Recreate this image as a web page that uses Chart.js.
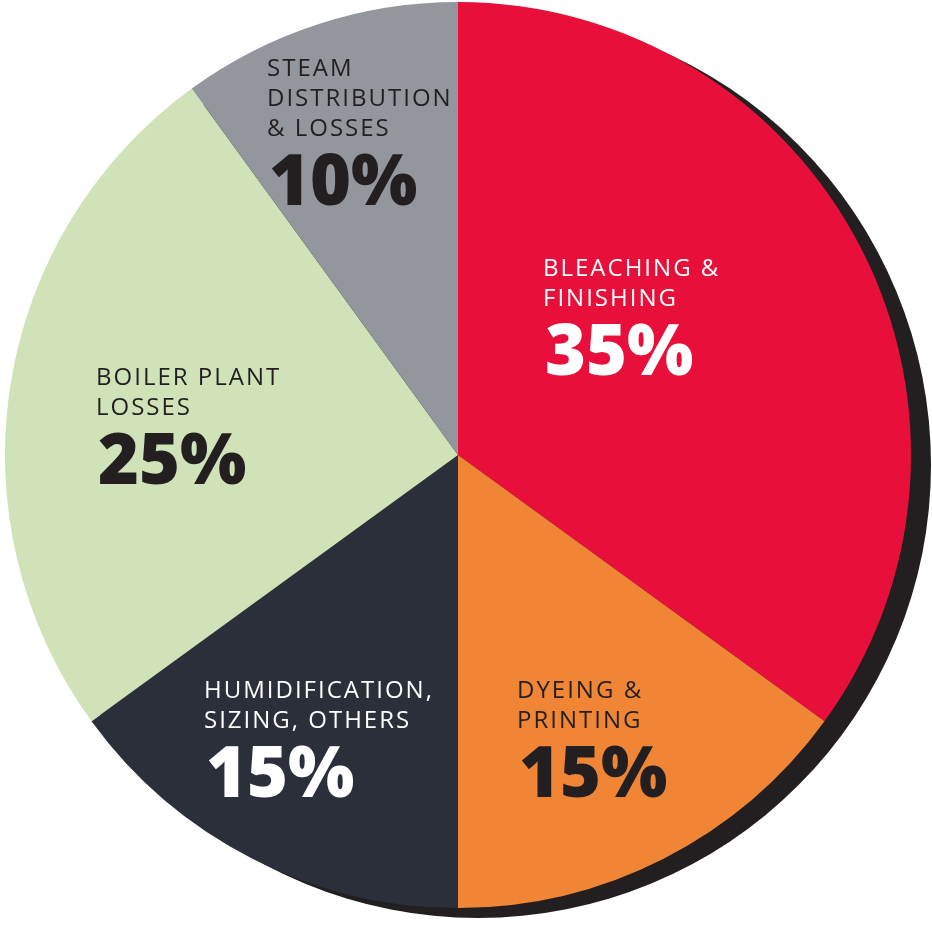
<!DOCTYPE html>
<html>
<head>
<meta charset="utf-8">
<title>Steam consumption breakdown</title>
<script src="https://cdn.jsdelivr.net/npm/chart.js@4.4.1/dist/chart.umd.min.js"></script>
<style>
  html, body { margin: 0; padding: 0; background: #ffffff; }
  #wrap { width: 932px; height: 926px; position: relative; }
</style>
</head>
<body>
<div id="wrap"><canvas id="pie"></canvas></div>
<script>
// Share of steam use by area, clockwise from 12 o'clock
const categories = [
  ['BLEACHING &', 'FINISHING'],
  ['DYEING &', 'PRINTING'],
  ['HUMIDIFICATION,', 'SIZING, OTHERS'],
  ['BOILER PLANT', 'LOSSES'],
  ['STEAM', 'DISTRIBUTION', '& LOSSES']
];
const shares = [35, 15, 15, 25, 10];
const sliceColors = ['#E8103A', '#EF8535', '#2A2F3A', '#CFE2B8', '#93969D'];
const textColors = ['#ffffff', '#231F20', '#ffffff', '#231F20', '#231F20'];

// top-left corner of each label block
const labelSpots = [
  [543, 256], [517, 678], [204, 678], [96, 365], [267, 56]
];

const SHADOW_DX = 20;
const SHADOW_DY = 10;
const LINE_GAP = 30;

const shadowPlugin = {
  id: 'dropShadow',
  beforeDatasetsDraw(chart) {
    const arc = chart.getDatasetMeta(0).data[0];
    if (!arc) return;
    const ctx = chart.ctx;
    ctx.save();
    ctx.fillStyle = '#231F20';
    ctx.beginPath();
    ctx.arc(arc.x + SHADOW_DX, arc.y + SHADOW_DY, arc.outerRadius, 0, Math.PI * 2);
    ctx.fill();
    ctx.restore();
  }
};

const labelPlugin = {
  id: 'sliceLabels',
  afterDatasetsDraw(chart) {
    const ctx = chart.ctx;
    ctx.save();
    ctx.textAlign = 'left';
    ctx.textBaseline = 'top';
    categories.forEach((lines, i) => {
      const [x, y] = labelSpots[i];
      ctx.fillStyle = textColors[i];
      ctx.font = '400 24px "Open Sans", sans-serif';
      ctx.letterSpacing = '2px';
      lines.forEach((line, j) => {
        ctx.fillText(line, x, y + j * LINE_GAP + 1);
      });
      ctx.font = '800 70px "Open Sans", sans-serif';
      ctx.letterSpacing = '0px';
      ctx.fillText(shares[i] + '%', x + 2, y + lines.length * LINE_GAP + 4);
    });
    ctx.restore();
  }
};

new Chart(document.getElementById('pie'), {
  type: 'pie',
  data: {
    labels: categories.map(l => l.join(' ')),
    datasets: [{
      data: shares,
      backgroundColor: sliceColors,
      borderWidth: 0
    }]
  },
  options: {
    responsive: true,
    maintainAspectRatio: false,
    animation: false,
    layout: { padding: { left: 5, right: 21, top: 2, bottom: 18 } },
    plugins: {
      legend: { display: false },
      tooltip: { enabled: false }
    }
  },
  plugins: [shadowPlugin, labelPlugin]
});
</script>
</body>
</html>
